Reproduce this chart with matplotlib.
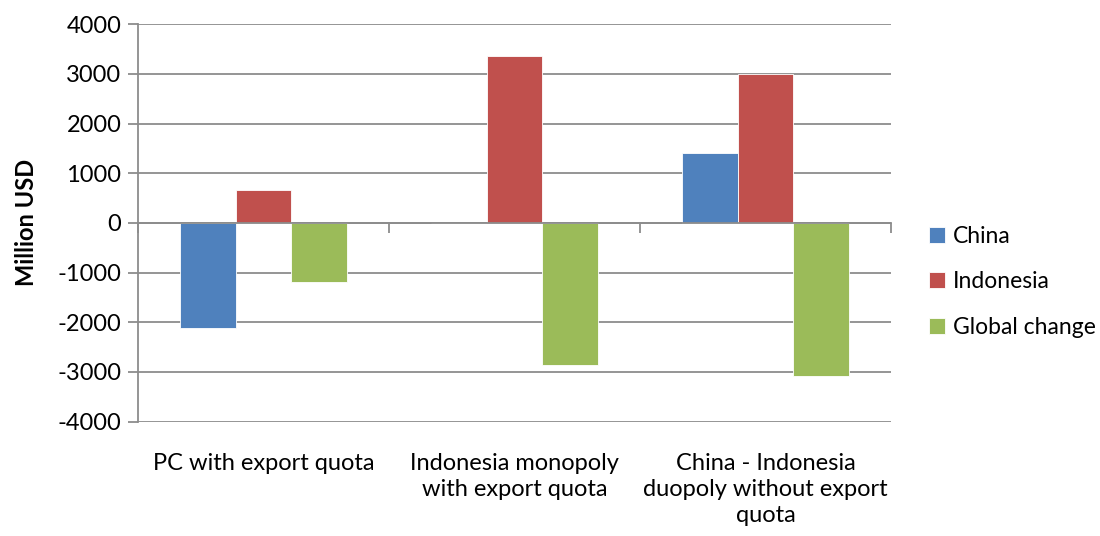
import matplotlib
matplotlib.use("Agg")
import matplotlib.pyplot as plt
import matplotlib.transforms as mtransforms
import numpy as np

categories = ["PC with export quota", "Indonesia monopoly\nwith export quota",
              "China - Indonesia\nduopoly without export\nquota"]
series_names = ["China", "Indonesia", "Global change"]
china = [-2115, 0, 1415]
indonesia = [670, 3360, 3000]
global_change = [-1195, -2865, -3080]
yticks = [-4000, -3000, -2000, -1000, 0, 1000, 2000, 3000, 4000]
colors = ["#4F81BD", "#C0504D", "#9BBB59"]

plt.rcParams['font.family'] = ['Lato', 'DejaVu Sans']
FS = 17

fig = plt.figure(figsize=(11, 5.36), dpi=100)
ax = fig.add_axes([0.1255, 0.2133, 0.81 - 0.1255, 0.955 - 0.2133])

x = np.arange(len(categories))
w = 0.222
handles = []
for i, (vals, name, c) in enumerate(zip([china, indonesia, global_change], series_names, colors)):
    b = ax.bar(x + (i - 1) * w, vals, width=w, color=c, edgecolor="#ffffff", linewidth=0.6,
               label=name, zorder=3)
    handles.append(b)

ax.set_xlim(-0.5, len(categories) - 0.5)
ax.set_ylim(yticks[0], yticks[-1])
ax.set_yticks(yticks)
ax.set_yticklabels([str(t) for t in yticks], fontsize=FS)
ax.yaxis.grid(True, color="#8c8c8c", linewidth=1.3, zorder=0)
ax.tick_params(axis="y", length=7, width=1.3, color="#8c8c8c", pad=5)

for s in ["top", "right"]:
    ax.spines[s].set_visible(False)
ax.spines["left"].set_color("#8c8c8c")
ax.spines["left"].set_linewidth(1.3)
ax.spines["bottom"].set_position(("data", 0))
ax.spines["bottom"].set_color("#8c8c8c")
ax.spines["bottom"].set_linewidth(1.3)
ax.spines["bottom"].set_zorder(4)
ax.set_xticks(np.arange(len(categories) + 1) - 0.5)
ax.set_xticklabels([])
ax.tick_params(axis="x", length=7, width=1.3, color="#8c8c8c", direction="out")

trans = mtransforms.blended_transform_factory(ax.transData, ax.transAxes)
for xi, lab in zip(x, categories):
    ax.text(xi, -0.078, lab, transform=trans, ha="center", va="top", fontsize=FS,
            linespacing=1.3)

ax.set_ylabel("Million USD", fontsize=FS, fontweight="bold", labelpad=14)

leg = fig.legend(handles=handles, labels=series_names, loc="center left",
                 bbox_to_anchor=(0.826, 0.474), frameon=False, fontsize=16.5,
                 handlelength=0.7, handleheight=0.7, handletextpad=0.35,
                 labelspacing=1.08)

fig.savefig("out.png", dpi=100)
